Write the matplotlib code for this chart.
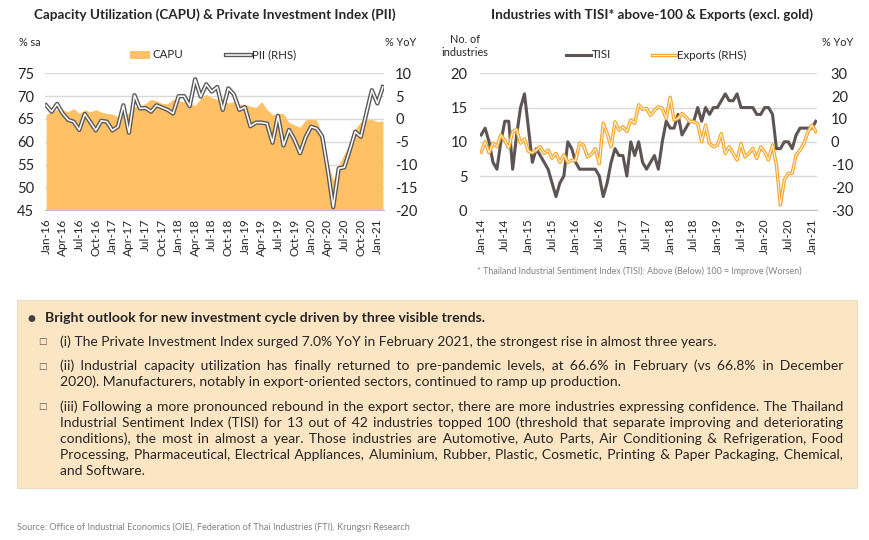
import pandas as pd
import matplotlib
matplotlib.use('Agg')
import matplotlib.pyplot as plt
import matplotlib.patheffects as pe
from matplotlib.patches import Rectangle
from matplotlib.lines import Line2D

W, H = 870, 540

# Left chart: Jan-16 .. Feb-21
capu = [66.0, 66.6, 67.1, 67.0, 66.6, 67.3, 66.2, 67.0, 66.6, 67.0, 66.5, 66.2,
        66.1, 65.5, 65.9, 66.2, 67.7, 67.8, 68.4, 69.3, 69.0, 68.4, 68.3, 69.3,
        69.0, 68.8, 68.4, 68.0, 69.5, 70.4, 69.7, 69.3, 69.1, 68.5, 68.8, 68.2,
        68.2, 67.8, 67.5, 68.8, 67.1, 65.9, 66.2, 66.2, 64.2, 63.7, 63.2, 64.8,
        65.0, 64.8, 61.5, 55.5, 51.6, 54.9, 57.3, 59.6, 62.9, 64.4, 64.8, 64.9,
        64.4, 64.6]
pii = [3.0, 1.6, 3.3, 1.2, -0.2, -0.6, -2.4, 1.1, -0.7, -2.5, -0.4, -0.6,
       -2.5, -1.7, 3.0, -3.0, 5.2, 2.3, 2.4, 1.6, 3.0, 2.5, 2.0, 1.2,
       5.0, 5.0, 2.8, 8.7, 4.9, 7.6, 6.0, 7.0, 2.0, 6.7, 5.4, 2.0,
       2.6, -1.6, -0.8, -0.8, -1.0, -5.2, 0.7, -5.8, -2.4, -4.6, -7.5, -4.0,
       -1.7, -2.1, -3.8, -11.0, -19.3, -10.8, -10.6, -6.8, -2.8, -3.9, 1.2, 6.3,
       3.4, 7.0]

# Right chart: Jan-14 .. Feb-21
tisi = [11, 12, 10, 7, 6, 10, 13, 13, 6, 11, 15, 17,
        12, 7, 9, 8, 7, 6, 4, 2, 4, 5, 10, 9,
        7, 6, 6, 6, 6, 6, 5, 2, 4, 7, 9, 8,
        8, 5, 10, 8, 10, 7, 6, 7, 8, 6, 10, 13,
        12, 12, 14, 11, 12, 13, 13, 15, 13, 15, 14, 15,
        15, 16, 17, 16, 16, 17, 15, 15, 15, 15, 14, 14,
        15, 15, 14, 9, 9, 10, 10, 9, 11, 12, 12, 12,
        12, 13]
exports = [-4.5, 0.0, -4.8, -0.6, -2.1, 3.0, 0.6, -2.7, 4.5, 5.4, -0.6, 1.2,
           -4.2, -4.8, -3.6, -2.1, -5.1, -3.6, -7.2, -5.1, -9.0, -5.7, -9.0, -8.1,
           -8.1, -0.6, -1.5, -6.6, -5.4, -3.0, -9.6, 8.1, 3.6, -2.1, 8.7, 5.1,
           6.6, 4.5, 9.6, 8.1, 16.2, 14.3, 14.6, 11.6, 13.8, 15.3, 14.6, 10.2,
           19.5, 9.5, 10.2, 12.4, 10.9, 8.8, 8.8, 8.0, 0.0, 7.3, -0.7, -2.2,
           -1.4, 3.6, -5.1, -2.2, -5.1, -8.0, -0.7, -6.6, -5.1, -2.9, -7.3, -2.2,
           -4.4, -8.0, -1.4, -10.2, -27.7, -16.7, -13.8, -13.8, -5.8, -3.6, -0.7, 4.4,
           7.3, 4.5]

left_months = pd.date_range('2016-01-01', periods=len(capu), freq='MS')
right_months = pd.date_range('2014-01-01', periods=len(tisi), freq='MS')

title_left = 'Capacity Utilization (CAPU) & Private Investment Index (PII)'
title_right = 'Industries with TISI* above-100 & Exports (excl. gold)'
footnote = '* Thailand Industrial Sentiment Index (TISI): Above (Below) 100 = Improve (Worsen)'
source = 'Source: Office of Industrial Economics (OIE), Federation of Thai Industries (FTI), Krungsri Research'
header = 'Bright outlook for new investment cycle driven by three visible trends.'
paragraphs = [
    ['(i) The Private Investment Index surged 7.0% YoY in February 2021, the strongest rise in almost three years.'],
    ['(ii) Industrial capacity utilization has finally returned to pre-pandemic levels, at 66.6% in February (vs 66.8% in December',
     '2020). Manufacturers, notably in export-oriented sectors, continued to ramp up production.'],
    ['(iii) Following a more pronounced rebound in the export sector, there are more industries expressing confidence. The Thailand',
     'Industrial Sentiment Index (TISI) for 13 out of 42 industries topped 100 (threshold that separate improving and deteriorating',
     'conditions), the most in almost a year. Those industries are Automotive, Auto Parts, Air Conditioning & Refrigeration, Food',
     'Processing, Pharmaceutical, Electrical Appliances, Aluminium, Rubber, Plastic, Cosmetic, Printing & Paper Packaging, Chemical,',
     'and Software.'],
]

plt.rcParams['font.family'] = ['Lato', 'DejaVu Sans']
plt.rcParams['axes.unicode_minus'] = False
TXT = '#262626'
GRID = '#D9D9D9'
BODY = 10.0

fig = plt.figure(figsize=(W / 100, H / 100), dpi=100)


def fx(x):
    return x / W


def fy(y):
    return 1 - y / H


def axes_px(l, t, r, b):
    return fig.add_axes([fx(l), fy(b), (r - l) / W, (b - t) / H])


def style_axes(ax):
    for s in ['top', 'left', 'right']:
        ax.spines[s].set_visible(False)
    ax.spines['bottom'].set_color('#BFBFBF')
    ax.tick_params(length=0, colors=TXT)


def double_stroke(outer, w):
    return [pe.Stroke(linewidth=w, foreground=outer), pe.Normal()]


# ---- left chart
ax1 = axes_px(45, 73.3, 384, 210.3)
x1 = range(len(capu))
ax1.fill_between(x1, 45, capu, color='#FFC066', lw=0, zorder=2)
ax1.set_ylim(45, 75)
ax1.set_xlim(-0.2, len(capu) - 0.8)
ax1.set_yticks(range(45, 76, 5))
ax1.yaxis.grid(True, color=GRID, lw=1, zorder=0)
ax1.set_axisbelow(True)
style_axes(ax1)
ax1.tick_params(axis='y', labelsize=10.5, pad=8)
ticks = list(range(0, len(capu), 3))
ax1.set_xticks(ticks)
ax1.set_xticklabels([left_months[i].strftime('%b-%y') for i in ticks], rotation=90, fontsize=8.5)
ax1.tick_params(axis='x', pad=6)

ax1b = ax1.twinx()
ax1b.plot(x1, pii, color='white', lw=1.1, path_effects=double_stroke('#595959', 3.1), zorder=3)
ax1b.set_ylim(-20, 10)
ax1b.set_yticks(range(-20, 11, 5))
style_axes(ax1b)
ax1b.spines['bottom'].set_visible(False)
ax1b.tick_params(axis='y', labelsize=10.5, pad=8)

# ---- right chart
ax2 = axes_px(480, 73.3, 817, 210.3)
x2 = range(len(tisi))
ax2.plot(x2, tisi, color='#5E5454', lw=2.2, zorder=3)
ax2.set_ylim(0, 20)
ax2.set_xlim(-0.3, len(tisi) - 0.7)
ax2.set_yticks(range(0, 21, 5))
ax2.yaxis.grid(True, color=GRID, lw=1, zorder=0)
ax2.set_axisbelow(True)
style_axes(ax2)
ax2.tick_params(axis='y', labelsize=10.5, pad=9)
ticks = list(range(0, len(tisi), 6))
ax2.set_xticks(ticks)
ax2.set_xticklabels([right_months[i].strftime('%b-%y') for i in ticks], rotation=90, fontsize=8.5)
ax2.tick_params(axis='x', pad=6)

ax2b = ax2.twinx()
ax2b.plot(x2, exports, color='#FFF3D6', lw=0.8, path_effects=double_stroke('#F5A52A', 2.5), zorder=3)
ax2b.set_ylim(-30, 30)
ax2b.set_yticks(range(-30, 31, 10))
style_axes(ax2b)
ax2b.spines['bottom'].set_visible(False)
ax2b.tick_params(axis='y', labelsize=10.5, pad=10)

# ---- titles, unit labels, legends
fig.text(fx(215), fy(15), title_left, ha='center', va='center', fontsize=9.7, weight='bold', color=TXT)
fig.text(fx(652), fy(15), title_right, ha='center', va='center', fontsize=9.7, weight='bold', color=TXT)
fig.text(fx(19), fy(43), '% sa', ha='left', va='center', fontsize=7.8, color=TXT)
fig.text(fx(385), fy(43), '% YoY', ha='left', va='center', fontsize=7.8, color=TXT)
fig.text(fx(465), fy(46), 'No. of\nindustries', ha='center', va='center', fontsize=7.8, color=TXT,
         linespacing=1.25)
fig.text(fx(822), fy(43), '% YoY', ha='left', va='center', fontsize=7.8, color=TXT)

fig.patches.append(Rectangle((fx(130), fy(59)), 20 / W, 8 / H, transform=fig.transFigure,
                             color='#FFC066', lw=0))
fig.text(fx(153), fy(55), 'CAPU', ha='left', va='center', fontsize=8.3, color=TXT)
fig.lines.append(Line2D([fx(226), fx(251)], [fy(55), fy(55)], transform=fig.transFigure,
                        color='white', lw=1.1, path_effects=double_stroke('#595959', 3.1)))
fig.text(fx(252), fy(55), 'PII (RHS)', ha='left', va='center', fontsize=8.3, color=TXT)
fig.lines.append(Line2D([fx(566), fx(591)], [fy(55), fy(55)], transform=fig.transFigure,
                        color='#5E5454', lw=2.2))
fig.text(fx(592), fy(55), 'TISI', ha='left', va='center', fontsize=8.3, color=TXT)
fig.lines.append(Line2D([fx(652), fx(676)], [fy(55), fy(55)], transform=fig.transFigure,
                        color='#FFF3D6', lw=0.8, path_effects=double_stroke('#F5A52A', 2.5)))
fig.text(fx(677), fy(55), 'Exports (RHS)', ha='left', va='center', fontsize=8.3, color=TXT)

fig.text(fx(639), fy(271), footnote, ha='center', va='center', fontsize=6.4, color='#808080')
fig.text(fx(17), fy(527), source, ha='left', va='center', fontsize=6.6, color='#808080')

# ---- text box
fig.patches.append(Rectangle((fx(17), fy(488)), 840 / W, 188 / H, transform=fig.transFigure,
                             facecolor='#FCE5C2', edgecolor='#EADBC4', lw=0.8))
fig.text(fx(31), fy(318), '\u25CF', ha='center', va='center', fontsize=6.5, color='#404040',
         family='DejaVu Sans')
fig.text(fx(45), fy(322), header, ha='left', va='baseline', fontsize=10.1, weight='bold', color=TXT)

renderer = fig.canvas.get_renderer()
TEXT_L, TEXT_R = 60, 843
BODY_KW = dict(ha='left', va='baseline', fontsize=BODY, color=TXT)
HAIR = '\u200a'


def text_width(s):
    t = fig.text(0, 0, s, **BODY_KW)
    w = t.get_window_extent(renderer).width
    t.remove()
    return w


hair_w = (text_width('a' + HAIR * 20 + 'a') - text_width('aa')) / 20


def justify(line):
    # pad the word gaps with hair spaces so the line spans the full width
    words = line.split(' ')
    n = len(words) - 1
    total = max(0, round((TEXT_R - TEXT_L - text_width(line)) / hair_w))
    out = words[0]
    for i in range(n):
        k = round((i + 1) * total / n) - round(i * total / n)
        out += ' ' + HAIR * k + words[i + 1]
    return out


para_y = [[341.7], [366, 381.5], [407, 423, 439, 455, 471]]
for lines, ys in zip(paragraphs, para_y):
    fig.text(fx(42), fy(ys[0]), '\u25A1', ha='center', va='center', fontsize=6.5, color='#595959',
             family='DejaVu Sans')
    for k, (line, y) in enumerate(zip(lines, ys)):
        s = justify(line) if (k < len(lines) - 1 and hair_w > 0.2) else line
        fig.text(fx(TEXT_L), fy(y + 4), s, **BODY_KW)

fig.savefig('out.png', dpi=100)
